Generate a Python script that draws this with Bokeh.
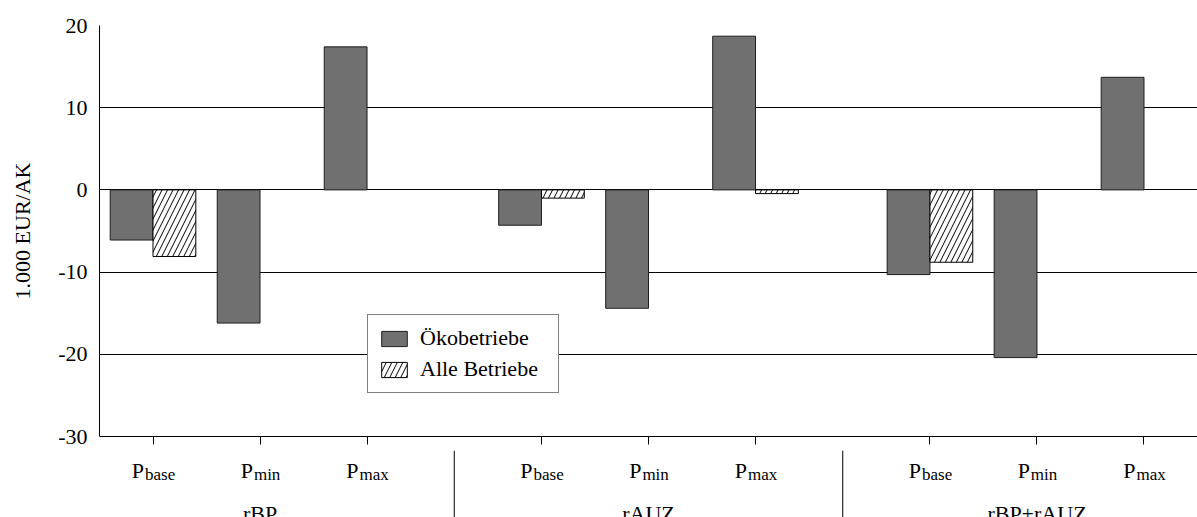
from bokeh.plotting import figure
from bokeh.layouts import column
from bokeh.models import (FactorRange, FixedTicker, Legend, LegendItem,
                          ColumnDataSource, Range1d)
from bokeh.core.properties import value
from bokeh.transform import dodge
from bokeh.embed import file_html
from bokeh.resources import INLINE

# ---------------- data ----------------
groups = ["rBP", "rAUZ", "rBP+rAUZ"]
price_levels = ["base", "min", "max"]
oekobetriebe = [-6.1, -16.2, 17.4, -4.3, -14.4, 18.7, -10.3, -20.4, 13.7]
alle_betriebe = [-8.1, None, None, -1.0, None, -0.45, -8.8, None, None]
y_ticks = [-30, -20, -10, 0, 10, 20]
y_label = "1.000 EUR/AK"
series_names = ["Ökobetriebe", "Alle Betriebe"]

# ---------------- style ----------------
FONT = "Liberation Serif"
FS = "22px"
SUB_FS = 17
GROUP_PAD = 0.63
BAR_W = 0.4
W_FIG = 1197
H1 = 450          # main chart (frame 25..436 + tick area)
H2 = 517 - H1     # category label strip

factors = [(g, "P" + lvl) for g in groups for lvl in price_levels]
x_range = FactorRange(*factors, group_padding=GROUP_PAD, range_padding=0)

p = figure(x_range=x_range, y_range=(y_ticks[0], y_ticks[-1]), width=W_FIG, height=H1,
           output_backend="svg", toolbar_location=None,
           min_border_left=99, min_border_right=0, min_border_top=25,
           min_border_bottom=H1 - 436)
p.outline_line_color = None
p.background_fill_color = "white"
p.border_fill_color = "white"

oeko_src = ColumnDataSource(dict(x=factors, top=oekobetriebe))
idx = [i for i, v in enumerate(alle_betriebe) if v is not None]
alle_src = ColumnDataSource(dict(x=[factors[i] for i in idx],
                                 top=[alle_betriebe[i] for i in idx]))

r1 = p.vbar(x=dodge("x", -BAR_W / 2, range=x_range), top="top", bottom=0,
            width=BAR_W, source=oeko_src, fill_color="#707070",
            line_color="#1e1e1e", line_width=1)
r2 = p.vbar(x=dodge("x", BAR_W / 2, range=x_range), top="top", bottom=0,
            width=BAR_W, source=alle_src, fill_color="white",
            line_color="black", line_width=1, hatch_pattern="/",
            hatch_color="black", hatch_scale=11, hatch_weight=1)

# grid
p.xgrid.visible = False
p.ygrid.ticker = FixedTicker(ticks=y_ticks)
p.ygrid.grid_line_color = "black"
p.ygrid.grid_line_width = 1

# y axis
p.yaxis.ticker = FixedTicker(ticks=y_ticks)
p.yaxis.major_label_overrides = {t: str(t) for t in y_ticks}
p.yaxis.major_tick_out = 0
p.yaxis.major_tick_in = 0
p.yaxis.minor_tick_out = 0
p.yaxis.minor_tick_in = 0
p.yaxis.axis_line_color = "black"
p.yaxis.major_label_text_font = FONT
p.yaxis.major_label_text_font_size = FS
p.yaxis.major_label_text_color = "black"
p.yaxis.major_label_standoff = 12
p.yaxis.axis_label = y_label
p.yaxis.axis_label_text_font = FONT
p.yaxis.axis_label_text_font_size = FS
p.yaxis.axis_label_text_font_style = "normal"
p.yaxis.axis_label_text_color = "black"
p.yaxis.axis_label_standoff = 20

# x axis: line and ticks only (labels with subscripts drawn in strip below)
p.xaxis.major_tick_out = 8
p.xaxis.major_tick_in = 0
p.xaxis.axis_line_color = "black"
p.xaxis.major_tick_line_color = "black"
p.xaxis.major_label_text_color = None
p.xaxis.major_label_text_font_size = "0px"
p.xaxis.major_label_standoff = 0
p.xaxis.group_text_color = None
p.xaxis.group_text_font_size = "0px"
p.xaxis.subgroup_text_color = None
p.xaxis.separator_line_color = None

legend = Legend(items=[LegendItem(label=series_names[0], renderers=[r1]),
                       LegendItem(label=series_names[1], renderers=[r2])],
                location=(268, 43), border_line_color="black",
                border_line_width=1, background_fill_color="white",
                background_fill_alpha=1, label_text_font=FONT,
                label_text_font_size=FS, label_text_color="black",
                glyph_width=32, glyph_height=19, label_standoff=10,
                label_width=128, spacing=5, padding=10, margin=0,
                label_height=19)
p.add_layout(legend)

# ---------------- category label strip ----------------
p2 = figure(x_range=x_range, y_range=Range1d(H2, 0), width=W_FIG, height=H2,
            title=None, output_backend="svg", toolbar_location=None,
            x_axis_location=None, y_axis_location=None,
            min_border_left=99, min_border_right=0, min_border_top=0,
            min_border_bottom=0)
p2.grid.visible = False
p2.outline_line_color = None
p2.background_fill_color = "white"
p2.border_fill_color = "white"

# approximate glyph widths (em) for centering "P" + subscript
W = {"P": 0.556, "b": 0.5, "a": 0.444, "s": 0.389, "e": 0.444, "m": 0.778,
     "i": 0.278, "n": 0.5, "x": 0.5}
p_w = W["P"] * 22
offs, subs = [], []
for f in factors:
    lvl = f[1][1:]
    sub_w = sum(W[c] for c in lvl) * SUB_FS
    offs.append((p_w - sub_w) / 2)
    subs.append(lvl)

lab_src = ColumnDataSource(dict(x=factors, main=["P"] * len(factors), sub=subs,
                                off=offs, off2=[o + 1 for o in offs]))
base_y = 470 - H1
p2.text(x="x", y=base_y, text="main", source=lab_src, x_offset="off",
        text_align="right", text_baseline="alphabetic",
        text_font=value(FONT), text_font_size=FS, text_color="black")
p2.text(x="x", y=base_y + 4, text="sub", source=lab_src, x_offset="off2",
        text_align="left", text_baseline="alphabetic",
        text_font=value(FONT), text_font_size=f"{SUB_FS}px", text_color="black")

grp_src = ColumnDataSource(dict(x=[(g, "P" + price_levels[1]) for g in groups],
                                text=groups))
p2.text(x="x", y=513 - H1, text="text", source=grp_src, text_align="center",
        text_baseline="alphabetic", text_font=value(FONT), text_font_size=FS,
        text_color="black")

sep_src = ColumnDataSource(dict(x=[(g, "P" + price_levels[-1]) for g in groups[:-1]]))
sep_off = (1 + GROUP_PAD) / 2
p2.segment(x0=dodge("x", sep_off, range=x_range), x1=dodge("x", sep_off, range=x_range),
           y0=0, y1=H2, source=sep_src, line_color="black", line_width=1)

layout = column(p, p2, spacing=0)
open("out.html", "w").write(file_html(layout, INLINE))
